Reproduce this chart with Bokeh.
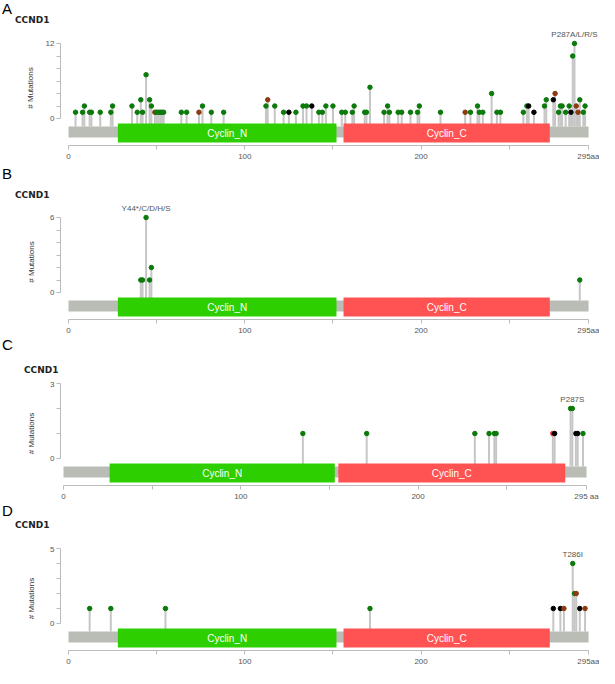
from bokeh.plotting import figure
from bokeh.models import Range1d, FixedTicker, ColumnDataSource, Div
from bokeh.layouts import column
from bokeh.embed import file_html
from bokeh.resources import INLINE
from bokeh.core.properties import value

GENE = "CCND1"
PROTEIN_LEN = 295
X_TICKS = [0, 100, 200, 295]
X_MINOR = [50, 150, 250]

# ---- Panel A data ----
A_pos = [4, 8, 9, 12, 13, 18, 24, 25, 36, 39, 41, 42, 44, 46, 47, 49, 50, 51, 52, 53, 54,
         64, 67, 74, 76, 81, 88, 112, 113, 117, 122, 125, 129, 133, 135, 138, 142, 144,
         146, 150, 155, 157, 161, 162, 168, 169, 171, 179, 181, 182, 187, 189, 194, 198,
         199, 211, 225, 228, 232, 233, 235, 240, 243, 245, 258, 260, 261, 264, 270, 271,
         275, 276, 278, 279, 280, 282, 284, 285, 286, 287, 288, 289, 290, 292, 293]
A_cnt = [1, 1, 2, 1, 1, 1, 1, 2, 2, 1, 3, 1, 7, 3, 2, 1, 1, 1, 1, 1, 1,
         1, 1, 1, 2, 1, 1, 2, 3, 2, 1, 1, 1, 2, 2, 2, 1, 1,
         2, 2, 1, 1, 1, 2, 1, 1, 5, 1, 2, 1, 1, 1, 1, 1,
         2, 1, 1, 1, 2, 1, 1, 4, 1, 1, 1, 2, 2, 1, 2, 3,
         3, 4, 1, 2, 2, 1, 2, 1, 10, 12, 2, 1, 3, 1, 2]
A_type = ["m", "m", "m", "m", "m", "m", "m", "m", "m", "m", "m", "m", "m", "m", "m", "i", "m", "m", "m", "m", "m",
          "m", "m", "i", "m", "m", "m", "m", "i", "m", "m", "t", "m", "m", "m", "t", "m", "m",
          "m", "m", "m", "m", "m", "m", "m", "m", "m", "m", "m", "m", "m", "m", "m", "m",
          "m", "m", "i", "m", "m", "m", "m", "m", "m", "m", "m", "m", "t", "t", "m", "m",
          "t", "i", "m", "m", "m", "m", "m", "t", "m", "m", "i", "i", "m", "m", "m"]
A_ymax = 12
A_label_pos = 287
A_label = "P287A/L/R/S"

# ---- Panel B data ----
B_pos = [41, 42, 44, 46, 47, 290]
B_cnt = [1, 1, 6, 1, 2, 1]
B_type = ["m", "m", "m", "m", "m", "m"]
B_ymax = 6
B_label_pos = 44
B_label = "Y44*/C/D/H/S"

# ---- Panel C data ----
C_pos = [135, 171, 232, 240, 243, 244, 276, 277, 286, 287, 289, 290, 293]
C_cnt = [1, 1, 1, 1, 1, 1, 1, 1, 2, 2, 1, 1, 1]
C_type = ["m", "m", "m", "m", "m", "m", "o", "t", "m", "m", "t", "t", "m"]
C_ymax = 3
C_label_pos = 287
C_label = "P287S"

# ---- Panel D data ----
D_pos = [12, 24, 55, 171, 275, 279, 281, 286, 287, 288, 290, 293]
D_cnt = [1, 1, 1, 1, 1, 1, 1, 4, 2, 2, 1, 1]
D_type = ["m", "m", "m", "m", "t", "t", "i", "m", "m", "i", "t", "i"]
D_ymax = 5
D_label_pos = 286
D_label = "T286I"

# ---- Domains ----
DOM_names = ["Cyclin_N", "Cyclin_C"]
DOM_start = [28, 156]
DOM_end = [152, 273]
DOM_C_start = [26, 155]
DOM_C_end = [153, 283]

TYPE_COLORS = {"m": "#0b7a0b", "t": "#000000", "i": "#8b3a12", "o": "#e8221c"}
DOM_COLORS = ["#2dcf00", "#ff5353"]
BACKBONE = "#BABDB6"
FONT = "Liberation Sans"
W = 599
LEFT = 60
BOTTOM = 18


def header(letter, h, letter_top, gene_top, gene_x):
    html = (
        f'<div style="position:relative;width:{W}px;height:{h}px;overflow:hidden;margin:0;padding:0;">'
        f'<span style="position:absolute;left:2px;top:{letter_top}px;font-family:\'Liberation Sans\',Arial,sans-serif;'
        f'font-size:15px;line-height:15px;color:#000000;white-space:nowrap;">{letter}</span>'
        f'<span style="position:absolute;left:{gene_x}px;top:{gene_top}px;font-family:\'DejaVu Sans\',sans-serif;'
        f'font-size:9px;line-height:9px;font-weight:bold;color:#222222;white-space:nowrap;">{GENE}</span>'
        f'</div>'
    )
    return Div(text=html, width=W, height=h, margin=(0, 0, 0, 0))


def panel(pos, cnt, typ, ymax, label_pos, label_text, end_label,
          dstart, dend, x0px, ppa, frame_h, ylab_standoff):
    fw = W - LEFT
    xs = -x0px / ppa
    xe = xs + fw / ppa
    ppu = 75.0 / ymax
    ys = -27.0 / ppu
    ye = (frame_h - 27.0) / ppu
    p = figure(frame_width=fw, frame_height=frame_h,
               x_range=Range1d(xs, xe), y_range=Range1d(ys, ye),
               output_backend="svg", toolbar_location=None,
               min_border_left=LEFT, min_border_right=0,
               min_border_top=0, min_border_bottom=BOTTOM)
    p.extra_y_ranges = {"track": Range1d(0, frame_h)}
    p.grid.visible = False
    p.outline_line_color = None

    xa = p.xaxis[0]
    xa.ticker = FixedTicker(ticks=X_TICKS, minor_ticks=X_MINOR)
    xa.bounds = (0, PROTEIN_LEN)
    xa.major_label_overrides = {PROTEIN_LEN: end_label}
    xa.axis_line_color = "#bbbbbb"
    xa.major_tick_line_color = "#bbbbbb"
    xa.minor_tick_line_color = "#bbbbbb"
    xa.major_tick_in = 0
    xa.major_tick_out = 4
    xa.minor_tick_in = 0
    xa.minor_tick_out = 4
    xa.major_label_text_font = FONT
    xa.major_label_text_font_size = "8px"
    xa.major_label_text_color = "#555555"
    xa.major_label_standoff = 2

    ya = p.yaxis[0]
    minors = [v for v in range(1, ymax) if (ymax <= 6 or v % 2 == 0)]
    ya.ticker = FixedTicker(ticks=[0, ymax], minor_ticks=minors)
    ya.bounds = (0, ymax)
    ya.axis_line_color = "#bbbbbb"
    ya.major_tick_line_color = "#bbbbbb"
    ya.minor_tick_line_color = "#bbbbbb"
    ya.major_tick_in = 0
    ya.major_tick_out = 4
    ya.minor_tick_in = 0
    ya.minor_tick_out = 4
    ya.major_label_text_font = FONT
    ya.major_label_text_font_size = "8px"
    ya.major_label_text_color = "#555555"
    ya.major_label_standoff = 2
    ya.axis_label = "# Mutations"
    ya.axis_label_text_font = FONT
    ya.axis_label_text_font_size = "8px"
    ya.axis_label_text_font_style = "normal"
    ya.axis_label_text_color = "#333333"
    ya.axis_label_standoff = ylab_standoff

    src = ColumnDataSource(dict(x=pos, y=cnt, y0=[-8.0 / ppu] * len(pos),
                                c=[TYPE_COLORS[t] for t in typ]))
    p.segment(x0="x", y0="y0", x1="x", y1="y", source=src, line_color="#c6c6c6", line_width=2)

    p.quad(left=[0], right=[PROTEIN_LEN], bottom=[8], top=[19], y_range_name="track",
           fill_color=BACKBONE, line_color=None)
    dsrc = ColumnDataSource(dict(l=dstart, r=dend, name=DOM_names,
                                 mid=[(a + b) / 2 for a, b in zip(dstart, dend)],
                                 c=DOM_COLORS))
    p.quad(left="l", right="r", bottom=3, top=22, y_range_name="track", source=dsrc,
           fill_color="c", line_color=None)
    p.text(x="mid", y=12.5, text="name", y_range_name="track", source=dsrc,
           text_color="white", text_font=value(FONT), text_font_size=value("10px"),
           text_align="center", text_baseline="middle")

    p.scatter(x="x", y="y", source=src, size=4.5, fill_color="c", line_color="c")

    li = pos.index(label_pos)
    p.text(x=[label_pos], y=[cnt[li]], text=[label_text], text_color="#555555",
           text_font=value(FONT), text_font_size=value("8px"), text_align="center",
           text_baseline="middle", y_offset=-9)
    return p


hA = header("A", 30, 1, 16, 15)
pA = panel(A_pos, A_cnt, A_type, A_ymax, A_label_pos, A_label, "295aa",
           DOM_start, DOM_end, 8, 1.763, 115, 8)
hB = header("B", 41, 3, 28, 15)
pB = panel(B_pos, B_cnt, B_type, B_ymax, B_label_pos, B_label, "295aa",
           DOM_start, DOM_end, 8, 1.763, 115, 11)
hC = header("C", 44, 0, 29, 24)
pC = panel(C_pos, C_cnt, C_type, C_ymax, C_label_pos, C_label, "295 aa",
           DOM_C_start, DOM_C_end, 3, 1.773, 104, 11)
hD = header("D", 43, 0, 18, 15)
pD = panel(D_pos, D_cnt, D_type, D_ymax, D_label_pos, D_label, "295aa",
           DOM_start, DOM_end, 8, 1.763, 104, 11)

layout = column(hA, pA, hB, pB, hC, pC, hD, pD, spacing=0)
open("out.html", "w").write(file_html(layout, INLINE))
